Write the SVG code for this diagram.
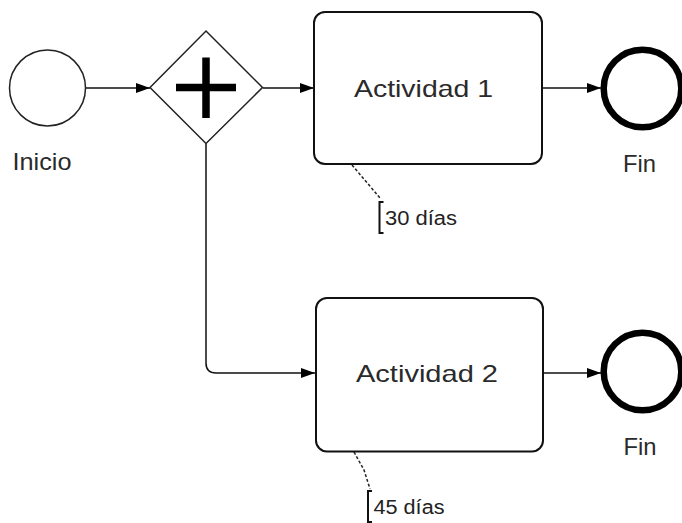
<svg xmlns="http://www.w3.org/2000/svg" width="682" height="523" viewBox="0 0 682 523">
  <style>
    .lbl { font-family: "Liberation Sans", Arial, sans-serif; font-size: 24px; fill: #2a2a2a; }
    .act { font-family: "Liberation Sans", Arial, sans-serif; font-size: 24px; fill: #2a2a2a; }
    .note { font-family: "Liberation Sans", Arial, sans-serif; font-size: 20px; fill: #222; }
    .flow { fill: none; stroke: #111; stroke-width: 1.5; marker-end: url(#arrow); }
    .assoc { fill: none; stroke: #222; stroke-width: 1.5; stroke-dasharray: 3 2; }
    .task { fill: #fff; stroke: #111; stroke-width: 2; }
    .endev { fill: #fff; stroke: #000; stroke-width: 6.5; }
    .bracket { fill: none; stroke: #111; stroke-width: 2; }
  </style>
  <defs>
    <marker id="arrow" markerUnits="userSpaceOnUse" markerWidth="14" markerHeight="10" refX="14" refY="5" orient="auto">
      <path d="M0,0 L14,5 L0,10 z" fill="#000"/>
    </marker>
  </defs>
  <rect width="682" height="523" fill="#fff"/>

  <g id="connectors">
    <line class="flow" x1="86" y1="88" x2="150" y2="88"/>
    <line class="flow" x1="263" y1="88" x2="314" y2="88"/>
    <path class="flow" d="M206,143.5 V363 Q206,373 216,373 H315"/>
    <line class="flow" x1="542" y1="88" x2="601" y2="88"/>
    <line class="flow" x1="543" y1="373" x2="601" y2="373"/>
    <path class="assoc" d="M352,165 L380,198"/>
    <path class="assoc" d="M354,452 L364,470 L370,489"/>
  </g>

  <g id="inicio">
    <circle cx="47.5" cy="88" r="38" fill="#fff" stroke="#222" stroke-width="1.5"/>
    <text class="lbl" x="12.5" y="169.5" textLength="59" lengthAdjust="spacingAndGlyphs">Inicio</text>
  </g>

  <g id="gateway">
    <polygon points="206,31 262.5,87.5 206,143.5 150,87.5" fill="#fff" stroke="#222" stroke-width="1.5"/>
    <path d="M176,87.5 H236 M206,57.5 V118" stroke="#000" stroke-width="7.5" fill="none"/>
  </g>

  <g id="actividad1">
    <rect class="task" x="314" y="12" width="228" height="152" rx="11"/>
    <text class="act" x="354" y="96.7" textLength="139" lengthAdjust="spacingAndGlyphs">Actividad 1</text>
  </g>

  <g id="actividad2">
    <rect class="task" x="316" y="298" width="227" height="153.5" rx="11"/>
    <text class="act" x="356" y="381.7" textLength="142" lengthAdjust="spacingAndGlyphs">Actividad 2</text>
  </g>

  <g id="fin1">
    <circle class="endev" cx="642.5" cy="88.5" r="38.8"/>
    <text class="lbl" x="623" y="171.5" textLength="33" lengthAdjust="spacingAndGlyphs">Fin</text>
  </g>

  <g id="fin2">
    <circle class="endev" cx="642.5" cy="371.5" r="38.8"/>
    <text class="lbl" x="623.5" y="455" textLength="33" lengthAdjust="spacingAndGlyphs">Fin</text>
  </g>

  <g id="nota1">
    <path class="bracket" d="M383.5,202 H379.5 V233 H383.5"/>
    <text class="note" x="385" y="225" textLength="72" lengthAdjust="spacingAndGlyphs">30 días</text>
  </g>

  <g id="nota2">
    <path class="bracket" d="M372,491 H368 V522 H372"/>
    <text class="note" x="373.5" y="514" textLength="71" lengthAdjust="spacingAndGlyphs">45 días</text>
  </g>
</svg>
